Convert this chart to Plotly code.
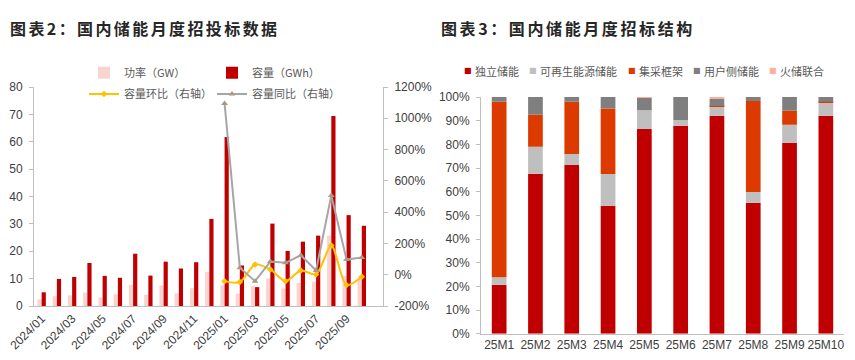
import plotly.graph_objects as go

# ---------------- data: left chart ----------------
months = ["2024/01", "2024/02", "2024/03", "2024/04", "2024/05", "2024/06",
          "2024/07", "2024/08", "2024/09", "2024/10", "2024/11", "2024/12",
          "2025/01", "2025/02", "2025/03", "2025/04", "2025/05", "2025/06",
          "2025/07", "2025/08", "2025/09", "2025/10"]
power_gw = [2.4, 3.6, 3.9, 4.9, 3.1, 4.3, 7.7, 4.1, 7.5, 4.6, 6.5, 12.4,
            7.6, 4.5, 7.3, 10.1, 6.4, 8.4, 8.9, 25.7, 11.0, 9.8]
capacity_gwh = [5.0, 9.9, 10.6, 15.7, 11.0, 10.3, 19.1, 11.1, 16.2, 13.7, 16.0, 31.8,
                61.7, 14.8, 6.9, 30.1, 20.1, 23.5, 25.7, 69.4, 33.2, 29.3]
ratio_months = ["2025/01", "2025/02", "2025/03", "2025/04", "2025/05",
                "2025/06", "2025/07", "2025/08", "2025/09", "2025/10"]
cap_mom_pct = [-41, -47, 65, 34, -41, 27, 2, 186, -66, -13]
cap_yoy_pct = [1095, 45, -41, 84, 76, 124, 27, 507, 97, 110]
left_ticks = [0, 10, 20, 30, 40, 50, 60, 70, 80]
right_tickvals = [-200, 0, 200, 400, 600, 800, 1000, 1200]
right_ticktext = ["-200%", "0%", "200%", "400%", "600%", "800%", "1000%", "1200%"]

# ---------------- data: right chart ----------------
periods = ["25M1", "25M2", "25M3", "25M4", "25M5", "25M6", "25M7", "25M8", "25M9", "25M10"]
s_independent = [20.7, 67.6, 71.3, 54.1, 86.5, 87.9, 92.1, 55.3, 80.7, 92.1]
s_renewable = [3.1, 11.4, 4.6, 13.4, 7.9, 2.4, 3.8, 4.6, 7.6, 5.5]
s_central = [74.2, 13.5, 22.1, 27.6, 0.0, 0.0, 0.3, 38.4, 5.9, 0.4]
s_user = [2.0, 7.5, 2.0, 4.9, 5.3, 9.7, 3.0, 1.7, 5.8, 2.0]
s_thermal = [0.0, 0.0, 0.0, 0.0, 0.3, 0.0, 0.8, 0.0, 0.0, 0.0]
struct_names = ["独立储能", "可再生能源储能", "集采框架", "用户侧储能", "火储联合"]
struct_colors = ["#C00000", "#BFBFBF", "#DD3A00", "#7F7F7F", "#FFAE9E"]
struct_series = [s_independent, s_renewable, s_central, s_user, s_thermal]

W, H = 855, 360
TICK_FONT = dict(family="Liberation Sans, Arial", size=12, color="#404040")
CJK = "Noto Sans CJK SC"
AXIS_COLOR = "#BFBFBF"

fig = go.Figure()

# left chart bars
fig.add_trace(go.Bar(x=months, y=power_gw, name="功率（GW）", marker_color="#F9D4CF",
                     offset=-0.275, width=0.275, xaxis="x", yaxis="y", legend="legend"))
fig.add_trace(go.Bar(x=months, y=capacity_gwh, name="容量（GWh）", marker_color="#C00000",
                     offset=0.0, width=0.275, xaxis="x", yaxis="y", legend="legend"))
# left chart lines
fig.add_trace(go.Scatter(x=ratio_months, y=cap_mom_pct, name="容量环比（右轴）",
                         mode="lines+markers", line=dict(color="#FFC000", width=2, shape="spline", smoothing=0.8),
                         marker=dict(symbol="diamond", size=5, color="#FFC000"),
                         xaxis="x", yaxis="y2", legend="legend2"))
fig.add_trace(go.Scatter(x=ratio_months, y=cap_yoy_pct, name="容量同比（右轴）",
                         mode="lines+markers", line=dict(color="#A6A6A6", width=2),
                         marker=dict(symbol="triangle-up", size=6, color="#A89A86"),
                         xaxis="x", yaxis="y2", legend="legend2"))

# right chart stacked bars (stacked via base)
cum = [0.0] * len(periods)
for name, color, vals in zip(struct_names, struct_colors, struct_series):
    fig.add_trace(go.Bar(x=periods, y=vals, base=list(cum), name=name, marker_color=color,
                         width=0.405, xaxis="x2", yaxis="y3", showlegend=False))
    cum = [c + v for c, v in zip(cum, vals)]

legend_common = dict(orientation="h", xanchor="left", yanchor="middle",
                     entrywidth=83, entrywidthmode="pixels",
                     font=dict(family=CJK, size=11, color="#595959"),
                     bgcolor="rgba(0,0,0,0)", itemclick=False, itemdoubleclick=False)

fig.update_layout(
    template="none",
    width=W, height=H, margin=dict(l=0, r=0, t=0, b=0, autoexpand=False),
    paper_bgcolor="white", plot_bgcolor="white",
    barmode="overlay",
    xaxis=dict(domain=[34 / W, 383 / W], type="category", categoryorder="array", categoryarray=months,
               tickangle=-45, dtick=2, tickfont=TICK_FONT, showline=True, linecolor=AXIS_COLOR,
               linewidth=1, ticks="", showgrid=False, zeroline=False, anchor="y", automargin=False),
    yaxis=dict(domain=[54 / H, 273 / H], range=[0, 80], tickvals=left_ticks, tickfont=TICK_FONT,
               showline=True, linecolor=AXIS_COLOR, ticks="outside", ticklen=4, tickcolor=AXIS_COLOR,
               showgrid=False, zeroline=False, anchor="x", ticklabelstandoff=4, automargin=False),
    yaxis2=dict(overlaying="y", side="right", range=[-200, 1200], tickvals=right_tickvals,
                ticktext=right_ticktext, tickfont=TICK_FONT, showline=True, linecolor=AXIS_COLOR,
                ticks="outside", ticklen=4, tickcolor=AXIS_COLOR, showgrid=False, zeroline=False,
                anchor="x", ticklabelstandoff=4, automargin=False),
    xaxis2=dict(domain=[481 / W, 844 / W], type="category", tickangle=0, tickfont=TICK_FONT,
                showline=True, linecolor=AXIS_COLOR, linewidth=1, ticks="", showgrid=False,
                zeroline=False, anchor="y3", automargin=False),
    yaxis3=dict(domain=[26.3 / H, 263 / H], range=[0, 100], dtick=10, ticksuffix="%",
                tickfont=TICK_FONT, showline=True, linecolor=AXIS_COLOR, ticks="outside", ticklen=4,
                tickcolor=AXIS_COLOR, showgrid=False, zeroline=False, anchor="x2",
                ticklabelstandoff=4, automargin=False),
    legend=dict(x=84 / W, y=(H - 72.7) / H, **legend_common),
    legend2=dict(x=84 / W, y=(H - 94) / H, **legend_common),
    showlegend=True,
)

# titles
fig.add_annotation(text='<b><span style="letter-spacing:2.4px">图表2：国内储能月度招投标数据</span></b>',
                   x=8 / W, y=(H - 28) / H, xref="paper", yref="paper", xanchor="left", yanchor="middle",
                   showarrow=False, font=dict(family=CJK, size=16, color="#262626"))
fig.add_annotation(text='<b><span style="letter-spacing:2.6px">图表3：国内储能月度招标结构</span></b>',
                   x=439 / W, y=(H - 28) / H, xref="paper", yref="paper", xanchor="left", yanchor="middle",
                   showarrow=False, font=dict(family=CJK, size=16, color="#262626"))

# right chart legend (compact, as in the reference)
swatch_x = [468, 533, 632, 697, 773]
for sx, name, color in zip(swatch_x, struct_names, struct_colors):
    fig.add_annotation(text="■", x=sx / W, y=(H - 71) / H, xref="paper", yref="paper",
                       xanchor="center", yanchor="middle", showarrow=False,
                       font=dict(family="DejaVu Sans", size=8, color=color))
    fig.add_annotation(text=name, x=(sx + 5) / W, y=(H - 71) / H, xref="paper", yref="paper",
                       xanchor="left", yanchor="middle", showarrow=False,
                       font=dict(family=CJK, size=11, color="#595959"))

fig.write_html("out.html", config={"displayModeBar": False},
               post_script="document.body.style.margin='0';")
